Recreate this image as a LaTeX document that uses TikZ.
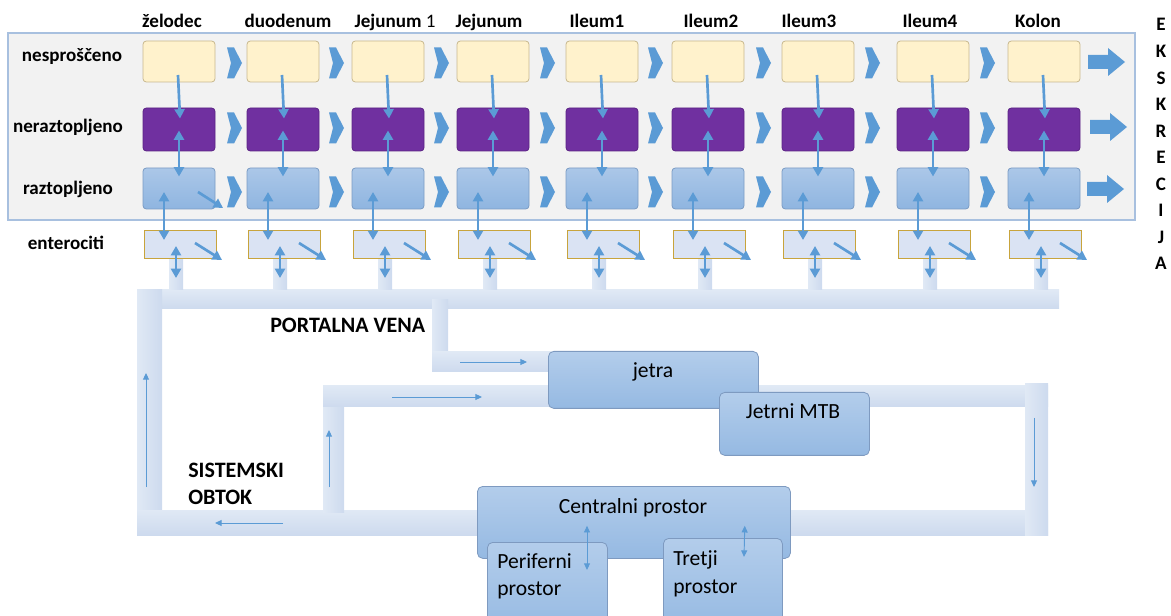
\documentclass[tikz,border=0pt]{standalone}
\usepackage{fontspec}
\setmainfont{Carlito}
\usetikzlibrary{calc,arrows.meta}

\definecolor{flowc}{HTML}{5B9BD5}
\definecolor{ylw}{HTML}{FFF2CC}
\definecolor{ylwb}{HTML}{C9B98F}
\definecolor{prp}{HTML}{7030A0}
\definecolor{prpb}{HTML}{5C2485}
\definecolor{bltop}{HTML}{ABC7E8}
\definecolor{blbot}{HTML}{8FB5E0}
\definecolor{blb}{HTML}{7B9CC4}
\definecolor{entf}{HTML}{DAE3F3}
\definecolor{entb}{HTML}{C8A43C}
\definecolor{panelf}{HTML}{F2F2F2}
\definecolor{panelb}{HTML}{A8C0DF}
\definecolor{banda}{HTML}{E0E9F5}
\definecolor{bandb}{HTML}{CDDAEE}
\definecolor{cmptop}{HTML}{B3CDEB}
\definecolor{cmpbot}{HTML}{95B9E2}
\definecolor{cmpb}{HTML}{7E9AC0}

\tikzset{
  boxbase/.style={rectangle, rounded corners=2.5pt, minimum width=54pt, inner sep=0pt, line width=0.6pt},
  yelbox/.style={boxbase, fill=ylw, draw=ylwb, minimum height=30.75pt},
  purbox/.style={boxbase, fill=prp, draw=prpb, minimum height=32.25pt},
  blubox/.style={boxbase, top color=bltop, bottom color=blbot, draw=blb, minimum height=30.75pt},
  entbox/.style={rectangle, minimum width=54pt, minimum height=21pt, fill=entf, draw=entb, line width=0.6pt, inner sep=0pt},
  cmpbox/.style={rectangle, rounded corners=4pt, top color=cmptop, bottom color=cmpbot, draw=cmpb, line width=0.6pt, inner sep=0pt, anchor=north west},
  colarrow/.style={draw=flowc, line width=2pt, -{Triangle[length=7pt,width=7.5pt]}},
  colboth/.style={draw=flowc, line width=2pt, {Triangle[length=7pt,width=7.5pt]}-{Triangle[length=7pt,width=7.5pt]}},
  thinarrow/.style={draw=flowc, line width=0.7pt, -{Triangle[length=5pt,width=4.5pt]}},
  thinboth/.style={draw=flowc, line width=0.7pt, {Triangle[length=5pt,width=4.5pt]}-{Triangle[length=5pt,width=4.5pt]}},
  hdr/.style={font=\fontsize{14.3}{17}\selectfont\bfseries, anchor=base, inner sep=0pt},
  bigtxt/.style={font=\fontsize{16.5}{20}\selectfont\bfseries, anchor=base west, inner sep=0pt},
  cmptxt/.style={font=\fontsize{16.2}{20}\selectfont, anchor=base, inner sep=0pt},
  hband/.style={top color=banda, bottom color=bandb},
  vband/.style={left color=banda, right color=bandb},
  chev/.pic={\fill[flowc] (-7,-15.5) -- (0,-15.5) -- (8,0) -- (0,15.5) -- (-7,15.5) -- (-3,0) -- cycle;},
  bigarr/.pic={\fill[flowc] (0,-7) -- (20,-7) -- (20,-14) -- (37,0) -- (20,14) -- (20,7) -- (0,7) -- cycle;}
}

\begin{document}
\begin{tikzpicture}[x=0.75pt,y=-0.75pt]
\useasboundingbox (0,0) rectangle (1171,616);

% grey panel holding the three lumen rows
\filldraw[fill=panelf, draw=panelb, line width=0.8pt] (8,33) rectangle (1135,220);

% column headers
\foreach \cx/\t in {172/želodec, 288/duodenum, 489/Jejunum, 597/Ileum1, 711/Ileum2, 809/Ileum3, 930/Ileum4, 1038/Kolon}
  \node[hdr] at (\cx,28) {\t};
\node[hdr] (hj1) at (395,28) {Jejunum {\mdseries 1}};

% row labels
\node[hdr] (r1) at (72,62) {nesproščeno};
\node[hdr] (r2) at (68,133) {neraztopljeno};
\node[hdr] (r3) at (68,195) {raztopljeno};
\node[hdr] (r4) at (66,250) {enterociti};

% excretion label
\foreach \yy [count=\k] in {31,58,85,111,138,164,191,217,244,270}
  \node[hdr] (ex\k) at (1161,\yy) {\ifcase\k\or E\or K\or S\or K\or R\or E\or C\or I\or J\or A\fi};

% blood vessels
\shade[hband] (137,290) rectangle (1059,309);
\shade[vband] (137,290) rectangle (162,535);
\shade[hband] (137,510) rectangle (1048,535);
\shade[vband] (432,300) rectangle (448,372);
\shade[hband] (432,352) rectangle (560,372);
\shade[vband] (323,386) rectangle (344,512);
\shade[hband] (323,386) rectangle (1048,407);
\shade[vband] (1025,384) rectangle (1048,535);

% intestinal segments
\foreach \L [count=\i] in {143,247,352,457,566,672,782,897,1008} {
  \shade[vband] (\L+26,258) rectangle (\L+40,290);
  \node[yelbox] (y\i) at (\L+36,61.5) {};
  \node[purbox] (p\i) at (\L+36,129.5) {};
  \node[blubox] (b\i) at (\L+36,188.5) {};
  \node[entbox] (e\i) at (\L+37,244) {};
  \draw[colarrow] ($(y\i.center)+(-1,13.5)$) -- ($(p\i.center)+(1,-11)$);
  \draw[colboth] ($(p\i.center)+(0,1)$) -- ($(b\i.center)+(0,-12)$);
  \draw[colboth] ($(b\i.center)+(-15,3.5)$) -- ($(e\i.center)+(-16,-4)$);
  \draw[colarrow] ($(e\i.center)+(15,-1)$) -- ($(e\i.center)+(42,16)$);
  \draw[colboth] ($(e\i.center)+(-4,2)$) -- ($(e\i.center)+(-4,34)$);
}
\draw[colarrow] ($(b1.center)+(19,3.5)$) -- ($(b1.center)+(44,19.5)$);

% transit between segments
\foreach \cx in {234,336,441,547,655,763,872,987}
  \foreach \ry in {63,128,192}
    \pic at (\cx,\ry) {chev};

% excretion arrows
\pic at (1088,62) {bigarr};
\pic at (1090,127) {bigarr};
\pic at (1087,189) {bigarr};

% flow directions in the vessels
\coordinate (pv1) at (460,362);  \coordinate (pv2) at (527,362);
\coordinate (sa1) at (392,397);  \coordinate (sa2) at (482,397);
\coordinate (lu1) at (146,487);  \coordinate (lu2) at (146,373);
\coordinate (su1) at (329,487);  \coordinate (su2) at (329,430);
\coordinate (bl1) at (283,523);  \coordinate (bl2) at (215,523);
\coordinate (rd1) at (1034,418); \coordinate (rd2) at (1034,487);
\draw[thinarrow] (pv1) -- (pv2);
\draw[thinarrow] (sa1) -- (sa2);
\draw[thinarrow] (lu1) -- (lu2);
\draw[thinarrow] (su1) -- (su2);
\draw[thinarrow] (bl1) -- (bl2);
\draw[thinarrow] (rd1) -- (rd2);

% vessel labels
\node[bigtxt] (portal) at (270,333) {PORTALNA VENA};
\node[bigtxt] (sis1) at (188,478) {SISTEMSKI};
\node[bigtxt] (sis2) at (188,504) {OBTOK};

% compartments
\node[cmpbox, minimum width=157.5pt, minimum height=42.75pt] (jetra) at (548,351) {};
\node[cmptxt] at (653,378) {jetra};
\node[cmpbox, minimum width=112.5pt, minimum height=47.25pt] (mtb) at (719,392) {};
\node[cmptxt] at (793,419) {Jetrni MTB};
\node[cmpbox, minimum width=234.75pt, minimum height=54pt] (central) at (477,486) {};
\node[cmptxt] at (633,513) {Centralni prostor};
\node[cmpbox, minimum width=90pt, minimum height=70pt] (perif) at (487,542) {};
\node[cmptxt, anchor=base west] at (497,568) {Periferni};
\node[cmptxt, anchor=base west] at (497,595) {prostor};
\node[cmpbox, minimum width=89.25pt, minimum height=70pt] (tretji) at (663,538) {};
\node[cmptxt, anchor=base west] at (673,565) {Tretji};
\node[cmptxt, anchor=base west] at (673,593) {prostor};

\draw[thinboth] ($(central.south west)+(110,-33)$) -- ($(perif.north west)+(100,28)$);
\draw[thinboth] ($(central.south east)+(-46,-33)$) -- ($(tretji.north west)+(81,19)$);
\end{tikzpicture}
\end{document}
